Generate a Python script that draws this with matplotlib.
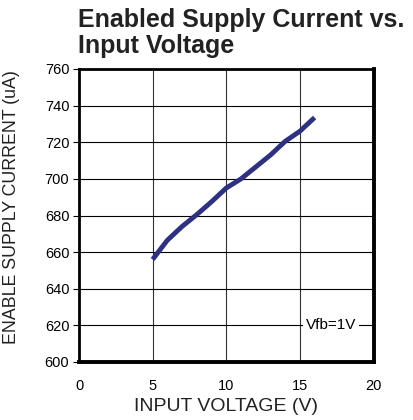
import matplotlib
matplotlib.use("Agg")
import matplotlib.pyplot as plt

plt.rcParams['font.family'] = ['Liberation Sans', 'DejaVu Sans']

voltage = [5, 6, 7, 8, 9, 10, 11, 12, 13, 14, 15, 16]
current = [656, 666.5, 674, 680.5, 687.5, 695, 700, 706.5, 713, 720.5, 726, 733.5]
x_ticks = [0, 5, 10, 15, 20]
y_ticks = [600, 620, 640, 660, 680, 700, 720, 740, 760]

fig = plt.figure(figsize=(4.13, 4.20), dpi=100)
ax = fig.add_axes([79/413, 1 - 362/420, (373.5 - 79)/413, (362 - 69)/420])

ax.plot(voltage, current, color='#2e3180', lw=3.5, solid_capstyle='butt', zorder=3)

ax.set_xlim(0, 20)
ax.set_ylim(600, 760)
ax.set_xticks(x_ticks)
ax.set_yticks(y_ticks)
ax.tick_params(axis='x', length=0, pad=12, labelsize=10.5)
ax.tick_params(axis='y', length=4, width=0.8, direction='out', pad=3, labelsize=10.5)

for v in x_ticks[1:-1]:
    ax.axvline(v, color='#333333', lw=0.8, zorder=1)
for v in y_ticks[1:-1]:
    ax.axhline(v, color='black', lw=0.8, zorder=1)

for side in ['left', 'top']:
    ax.spines[side].set_linewidth(2)
for side in ['right', 'bottom']:
    ax.spines[side].set_linewidth(2.8)

ax.set_xlabel('INPUT VOLTAGE (V)', fontsize=14, labelpad=4, color='#222222')
ax.set_ylabel('ENABLE SUPPLY CURRENT (uA)', fontsize=12.8, color='#222222',
              va='center')
ax.yaxis.set_label_coords(-0.228, 0.53)

ax.text(15.4, 620, 'Vfb=1V', fontsize=11, va='center', ha='left', zorder=4,
        bbox=dict(facecolor='white', edgecolor='none', pad=2))

fig.text(78/413, 1 - 27/420, 'Enabled Supply Current vs.', fontsize=18,
         fontweight='bold', ha='left', va='baseline', color='#222222')
fig.text(78/413, 1 - 53/420, 'Input Voltage', fontsize=18,
         fontweight='bold', ha='left', va='baseline', color='#222222')

fig.savefig('out.png', dpi=100)
